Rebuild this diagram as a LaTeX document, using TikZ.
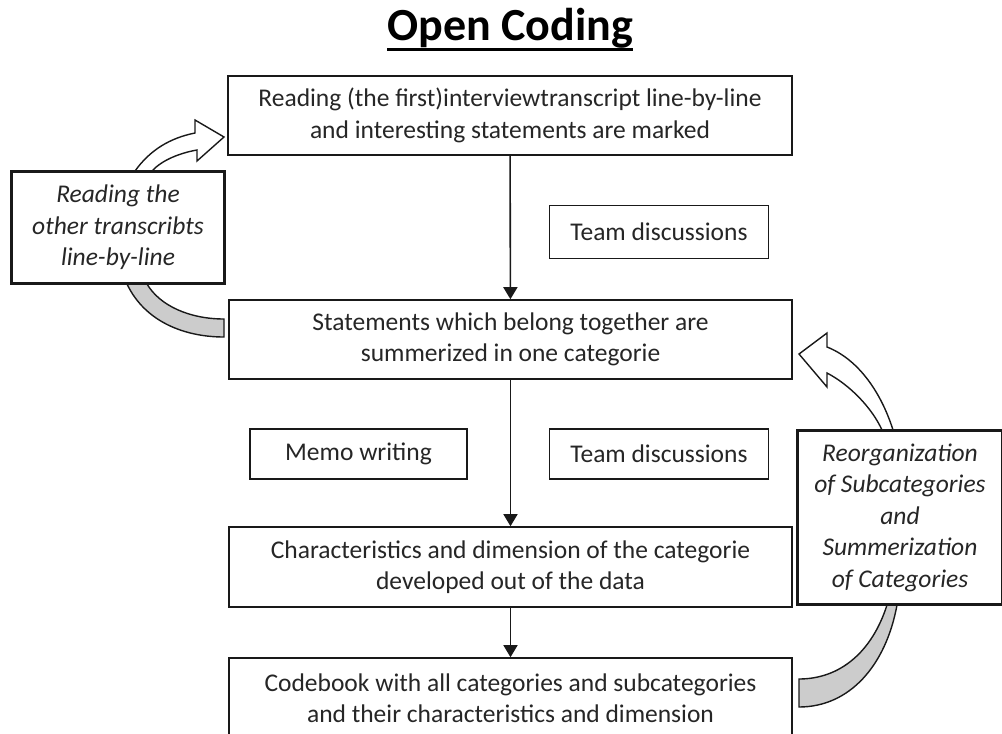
\documentclass[tikz,border=0pt]{standalone}
\usepackage{fontspec}
\setmainfont{Carlito}
\usetikzlibrary{arrows.meta,calc}
\begin{document}
\begin{tikzpicture}[x=1pt,y=-1pt,
  box/.style={draw=black!90,line width=1.6pt,inner sep=0pt,align=center,
    font=\fontsize{25.5}{31.5}\selectfont,text=black!85},
  ibox/.style={box,font=\fontsize{25.5}{31.5}\selectfont\itshape},
  flow/.style={line width=1.6pt,draw=black!90,-{Triangle[length=12pt,width=14pt]}},
  blockw/.style={draw=black!90,line width=1.4pt,fill=white,line join=miter},
  blockg/.style={draw=black!90,line width=1.4pt,fill=black!20,line join=miter}]
\useasboundingbox (0,0) rectangle (1002,734);
\fill[white] (0,0) rectangle (1002,734);

\node[font=\fontsize{46}{50}\selectfont\bfseries,text=black,inner sep=0pt,anchor=base] (title) at (510,40) {Open Coding};
\draw[line width=2.8pt] ($(title.base west)+(0,9.5)$) -- ($(title.base east)+(0,9.5)$);

\node[box,minimum width=564pt,minimum height=79pt] (b1) at (510,115.5)
  {Reading (the first)interviewtranscript line-by-line\\and interesting statements are marked};
\node[box,minimum width=563pt,minimum height=79pt] (b2) at (510.5,339.5)
  {Statements which belong together are\\summerized in one categorie};
\node[box,minimum width=563pt,minimum height=80pt] (b3) at (510.5,567)
  {Characteristics and dimension of the categorie\\developed out of the data};
\node[box,minimum width=563pt,minimum height=80pt] (b4) at (510.5,698)
  {Codebook with all categories and subcategories\\and their characteristics and dimension};

\node[box,minimum width=219pt,minimum height=53pt] (t1) at (659,232) {Team discussions};
\node[box,minimum width=217pt,minimum height=50pt] (memo) at (358.5,454) {Memo writing};
\node[box,minimum width=219pt,minimum height=50pt] (t2) at (659,454) {Team discussions};

\node[ibox,minimum width=212pt,minimum height=111pt] (lb) at (118,227.5)
  {Reading the\\other transcribts\\line-by-line};
\node[ibox,minimum width=204pt,minimum height=173pt] (rb) at (900,517.5)
  {Reorganization\\of Subcategories\\and\\Summerization\\of Categories};

\draw[flow] (b1) -- (b2);
\draw[flow] (b2) -- (b3);
\draw[flow] (b3) -- (b4);

% left white block arrow
\draw[blockw] (135,171) .. controls (150,150) and (170,138) .. (195,133)
  -- (195,120) -- (224,137) -- (197,161) -- (197,150)
  .. controls (180,153) and (162,160) .. (152,171) -- cycle;
% left gray block arrow
\draw[blockg] (127,284) .. controls (145,322) and (185,337) .. (224,337)
  -- (224,319) .. controls (190,319) and (160,306) .. (147,284) -- cycle;
% right white block arrow
\draw[blockw] (893,430) .. controls (882,395) and (860,360) .. (827,347)
  -- (827,333) -- (799,354) -- (827,387) -- (827,373)
  .. controls (850,385) and (872,408) .. (882,430) -- cycle;
% right gray block arrow
\draw[blockg] (887,605) .. controls (872,652) and (840,679) .. (799,679)
  -- (799,707) .. controls (850,707) and (886,665) .. (897,605) -- cycle;

% redraw boxes over arrow ends
\draw[draw=black!90,line width=1.6pt] (lb.north west) rectangle (lb.south east);
\draw[draw=black!90,line width=1.6pt] (rb.north west) rectangle (rb.south east);
\end{tikzpicture}
\end{document}
